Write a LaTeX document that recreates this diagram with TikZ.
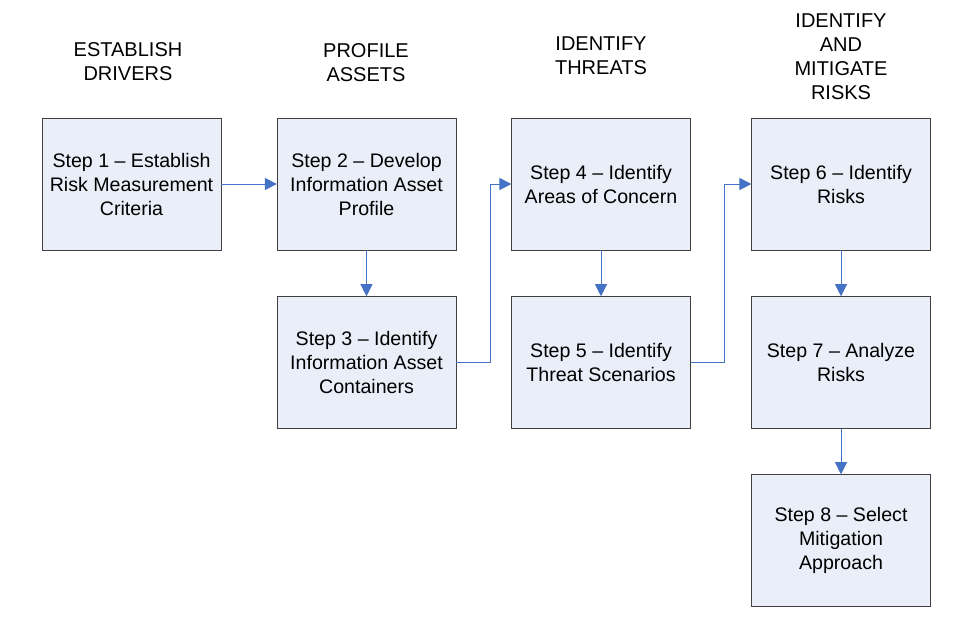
\documentclass[tikz,border=0pt]{standalone}
\usepackage{fontspec}
\setmainfont{Liberation Sans}
\usetikzlibrary{arrows.meta}
\definecolor{boxfill}{HTML}{E9EEF8}
\definecolor{arrowblue}{HTML}{4472C4}

\begin{document}
\begin{tikzpicture}[x=0.75pt,y=-0.75pt,
  stepbox/.style={draw=black!75,fill=boxfill,minimum width=134pt,minimum height=99pt,
    align=center,inner sep=0pt,font=\fontsize{14.7}{18}\selectfont},
  phase/.style={align=center,font=\fontsize{15}{18}\selectfont},
  flow/.style={draw=arrowblue,line width=0.7pt,-{Triangle[length=9pt,width=9pt]}}]
\useasboundingbox (0,0) rectangle (956,625);
% phase headings
\node[phase] (h1) at (128,62) {ESTABLISH\\DRIVERS};
\node[phase] (h2) at (366,63) {PROFILE\\ASSETS};
\node[phase] (h3) at (601,56) {IDENTIFY\\THREATS};
\node[phase] (h4) at (841,57) {IDENTIFY\\AND\\MITIGATE\\RISKS};
% steps
\node[stepbox] (s1) at (131.5,184) {Step 1 – Establish\\Risk Measurement\\Criteria};
\node[stepbox] (s2) at (366.5,184) {Step 2 – Develop\\Information Asset\\Profile};
\node[stepbox] (s3) at (366.5,362.5) {Step 3 – Identify\\Information Asset\\Containers};
\node[stepbox] (s4) at (601,184) {Step 4 – Identify\\Areas of Concern};
\node[stepbox] (s5) at (601,362.5) {Step 5 – Identify\\Threat Scenarios};
\node[stepbox] (s6) at (841,184) {Step 6 – Identify\\Risks};
\node[stepbox] (s7) at (841,362.5) {Step 7 – Analyze\\Risks};
\node[stepbox] (s8) at (841,540.5) {Step 8 – Select\\Mitigation\\Approach};
% connectors
\draw[flow] (s1) -- (s2);
\draw[flow] (s2) -- (s3);
\draw[flow] (s3.east) -- ++(34,0) |- (s4.west);
\draw[flow] (s4) -- (s5);
\draw[flow] (s5.east) -- ++(34,0) |- (s6.west);
\draw[flow] (s6) -- (s7);
\draw[flow] (s7) -- (s8);
\end{tikzpicture}
\end{document}
